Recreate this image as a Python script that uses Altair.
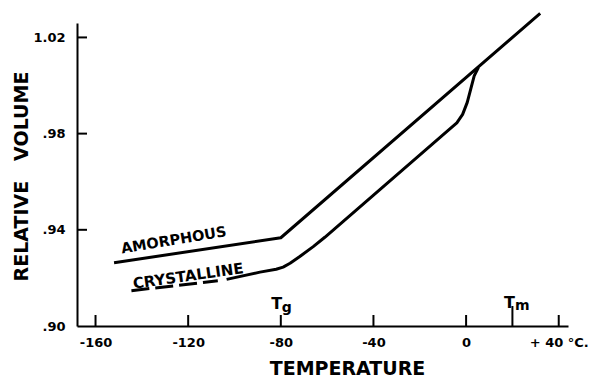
import altair as alt
import pandas as pd

# ---- data ----
amorph_t = [-152, -80, 32]
amorph_v = [0.9263, 0.9367, 1.030]

cryst_t = [-103.4, -89, -82, -79, -76, -71.8, -66, -61, -8, -4, -1.5, 0.5, 2.0, 3.5, 5.3]
cryst_v = [0.9194, 0.9224, 0.9236, 0.9245, 0.9261, 0.9289, 0.9330, 0.9369,
           0.9811, 0.9845, 0.9880, 0.9930, 0.9985, 1.0040, 1.0075]

cryst_dash_t = [-144.5, -107.2]
cryst_dash_v = [0.9147, 0.9188]

x_ticks = [-160, -120, -80, -40, 0, 20, 40]
x_tick_len = [11, 11, 11, 11, 11, 20, 11]
x_label_vals = [-160, -120, -80, -40, 0, 40]
y_ticks = [0.94, 0.98, 1.02]
y_label_vals = [0.90, 0.94, 0.98, 1.02]

labels_text = ["AMORPHOUS", "CRYSTALLINE"]
labels_t = [-126.2, -120.0]
labels_v = [0.9354, 0.9208]

W, H = 491, 303
FONT = "DejaVu Sans"

xs = alt.Scale(domain=[-168, 44], nice=False, zero=False)
ys = alt.Scale(domain=[0.90, 1.026], nice=False, zero=False)

x_axis = alt.Axis(
    values=x_label_vals, ticks=False, grid=False, domain=True,
    domainColor="black", domainWidth=2, labelPadding=10,
    labelFont=FONT, labelFontSize=13, labelFontWeight="bold", labelColor="black",
    labelExpr="datum.value == 40 ? '+ 40 \u00b0C.' : toString(datum.value)",
    title="TEMPERATURE", titleFont=FONT, titleFontSize=19, titleFontWeight="bold",
    titleColor="black", titleX=270, titleY=42, titleBaseline="middle", titleAlign="center",
)
y_axis = alt.Axis(
    values=y_label_vals, ticks=False, grid=False, domain=True,
    domainColor="black", domainWidth=2, labelPadding=12,
    labelFont=FONT, labelFontSize=13, labelFontWeight="bold", labelColor="black",
    labelExpr="datum.value >= 1 ? format(datum.value, '.2f') : slice(format(datum.value, '.2f'), 1)",
    title="RELATIVE\u00a0\u00a0\u00a0VOLUME", titleFont=FONT, titleFontSize=19, titleFontWeight="bold",
    titleColor="black", titleX=-56, titleY=153, titleAngle=270, titleBaseline="middle", titleAlign="center",
)

def X():
    return alt.X("t:Q", scale=xs, axis=x_axis)

def Y():
    return alt.Y("v:Q", scale=ys, axis=y_axis)

amorph = pd.DataFrame({"t": amorph_t, "v": amorph_v})
cryst = pd.DataFrame({"t": cryst_t, "v": cryst_v})
cryst_dash = pd.DataFrame({"t": cryst_dash_t, "v": cryst_dash_v})
yt = pd.DataFrame({"v": y_ticks})

l_am = alt.Chart(amorph).mark_line(color="black", strokeWidth=3, strokeJoin="round").encode(x=X(), y=Y())
l_cr = alt.Chart(cryst).mark_line(color="black", strokeWidth=3, strokeJoin="round").encode(x=X(), y=Y())
l_cd = alt.Chart(cryst_dash).mark_line(color="black", strokeWidth=3, strokeDash=[18, 6]).encode(x=X(), y=Y())

xtick_layers = []
for t, ln in zip(x_ticks, x_tick_len):
    d = pd.DataFrame({"t": [t]})
    xtick_layers.append(
        alt.Chart(d).mark_rule(color="black", strokeWidth=2).encode(
            x=X(), y=alt.value(H), y2=alt.value(H - ln)
        )
    )
ytick = alt.Chart(yt).mark_rule(color="black", strokeWidth=2).encode(
    y=Y(), x=alt.value(0), x2=alt.value(10)
)

am_lab = alt.Chart(pd.DataFrame({"t": [labels_t[0]], "v": [labels_v[0]], "s": [labels_text[0]]})).mark_text(
    font=FONT, fontSize=14.5, fontWeight="bold", angle=350.5, color="black"
).encode(x=X(), y=Y(), text="s:N")
cr_lab = alt.Chart(pd.DataFrame({"t": [labels_t[1]], "v": [labels_v[1]], "s": [labels_text[1]]})).mark_text(
    font=FONT, fontSize=15, fontWeight="bold", angle=352, color="black"
).encode(x=X(), y=Y(), text="s:N")

# Tg and Tm markers
tg_T = alt.Chart(pd.DataFrame({"t": [-80], "v": [0.90], "s": ["T"]})).mark_text(
    font=FONT, fontSize=16, fontWeight="bold", color="black", dx=-4, dy=-22
).encode(x=X(), y=Y(), text="s:N")
tg_g = alt.Chart(pd.DataFrame({"t": [-80], "v": [0.90], "s": ["g"]})).mark_text(
    font=FONT, fontSize=14, fontWeight="bold", color="black", dx=6, dy=-18
).encode(x=X(), y=Y(), text="s:N")
tm_T = alt.Chart(pd.DataFrame({"t": [20], "v": [0.90], "s": ["T"]})).mark_text(
    font=FONT, fontSize=16, fontWeight="bold", color="black", dx=-3, dy=-23
).encode(x=X(), y=Y(), text="s:N")
tm_m = alt.Chart(pd.DataFrame({"t": [20], "v": [0.90], "s": ["m"]})).mark_text(
    font=FONT, fontSize=14, fontWeight="bold", color="black", dx=10, dy=-20
).encode(x=X(), y=Y(), text="s:N")

chart = alt.layer(
    l_am, l_cr, l_cd, *xtick_layers, ytick, am_lab, cr_lab, tg_T, tg_g, tm_T, tm_m
).properties(
    width=W, height=H,
    autosize=alt.AutoSizeParams(type="none"),
    padding={"left": 69, "top": 15, "right": 20, "bottom": 52},
    background="white",
).configure_view(stroke=None)

chart.save("out.html", embed_options={"renderer": "svg", "actions": False})
